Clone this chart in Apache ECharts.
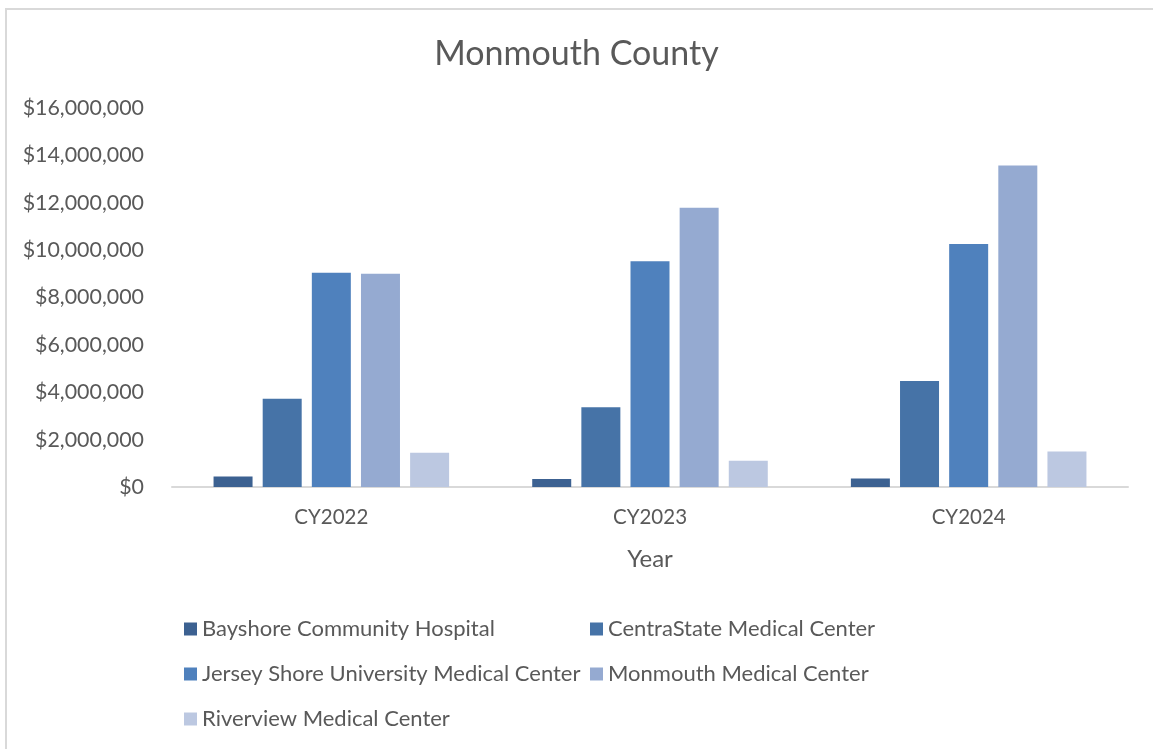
<!DOCTYPE html>
<html>
<head>
<meta charset="utf-8">
<script src="https://cdn.jsdelivr.net/npm/echarts@6/dist/echarts.min.js"></script>
<style>
  html, body { margin: 0; padding: 0; background: #fff; }
  #chart { width: 1153px; height: 749px; }
</style>
</head>
<body>
<div id="chart"></div>
<script>
// categories
const years = ["CY2022", "CY2023", "CY2024"];

// series values (USD)
const bayshore = [440000, 340000, 360000];
const centraState = [3730000, 3370000, 4480000];
const jerseyShore = [9050000, 9530000, 10260000];
const monmouth = [9000000, 11790000, 13570000];
const riverview = [1450000, 1110000, 1500000];

const seriesNames = [
  "Bayshore Community Hospital",
  "CentraState Medical Center",
  "Jersey Shore University Medical Center",
  "Monmouth Medical Center",
  "Riverview Medical Center"
];
const seriesData = [bayshore, centraState, jerseyShore, monmouth, riverview];
const colors = ["#3c6191", "#4673a7", "#4f81bd", "#95aad1", "#bcc8e1"];

const textColor = "#595959";
const fontFamily = "Lato, 'Open Sans', sans-serif";

const chart = echarts.init(document.getElementById("chart"));

const fmtMoney = v => "$" + v.toLocaleString("en-US");

const legendBase = {
  orient: "vertical",
  top: 613,
  itemWidth: 13,
  itemHeight: 13,
  itemGap: 23,
  icon: "rect",
  textStyle: { fontSize: 22, color: textColor, fontFamily, padding: [0, 0, 0, 0] }
};

const option = {
  backgroundColor: "#fff",
  textStyle: { fontFamily, color: textColor },
  title: {
    text: "Monmouth County",
    left: "center",
    top: 32,
    textStyle: { fontSize: 34, fontWeight: "normal", color: textColor, fontFamily }
  },
  graphic: [
    {
      type: "rect",
      shape: { x: 6, y: 9, width: 1200, height: 800 },
      style: { fill: "none", stroke: "#d9d9d9", lineWidth: 2 },
      silent: true
    }
  ],
  legend: [
    Object.assign({}, legendBase, {
      data: [seriesNames[0], seriesNames[2], seriesNames[4]],
      left: 179
    }),
    Object.assign({}, legendBase, {
      data: [seriesNames[1], seriesNames[3]],
      left: 585
    })
  ],
  grid: {
    left: 172,
    right: 25,
    top: 108,
    bottom: 262
  },
  xAxis: {
    type: "category",
    data: years,
    name: "Year",
    nameLocation: "middle",
    nameGap: 60,
    nameTextStyle: { fontSize: 24, color: textColor, fontFamily },
    axisLine: { lineStyle: { color: "#d9d9d9", width: 2 } },
    axisTick: { show: false },
    axisLabel: { fontSize: 20.5, color: textColor, margin: 20, fontFamily }
  },
  yAxis: {
    type: "value",
    min: 0,
    max: 16000000,
    interval: 2000000,
    splitLine: { show: false },
    axisLine: { show: false },
    axisTick: { show: false },
    axisLabel: {
      fontSize: 21.4,
      color: textColor,
      margin: 28,
      fontFamily,
      formatter: fmtMoney
    }
  },
  series: seriesNames.map((name, i) => ({
    name,
    type: "bar",
    data: seriesData[i],
    barWidth: 39,
    barGap: "26%",
    itemStyle: { color: colors[i] },
    emphasis: { disabled: true }
  }))
};

chart.setOption(option);
</script>
</body>
</html>
